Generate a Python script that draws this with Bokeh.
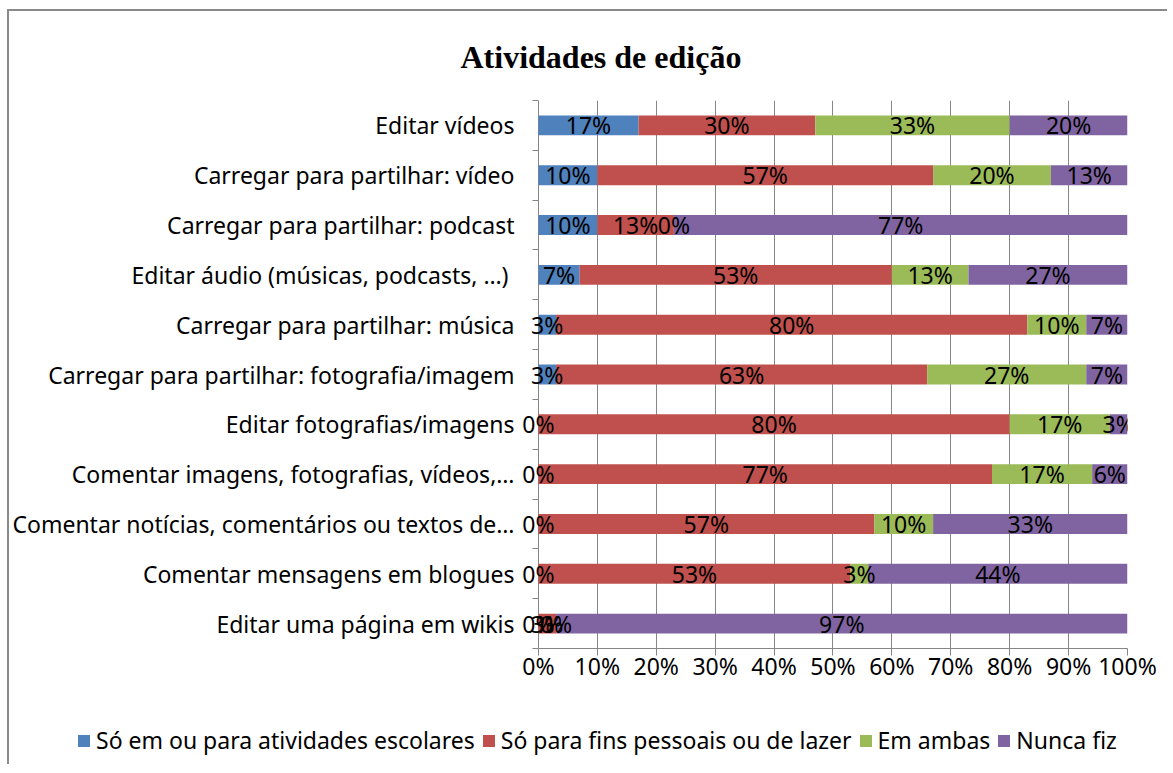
from bokeh.plotting import figure
from bokeh.layouts import column
from bokeh.models import ColumnDataSource, FixedTicker, Range1d, Title
from bokeh.core.properties import value
from bokeh.embed import file_html
from bokeh.resources import INLINE

categories = [
    "Editar vídeos",
    "Carregar para partilhar: vídeo",
    "Carregar para partilhar: podcast",
    "Editar áudio  (músicas, podcasts, …)",
    "Carregar para partilhar: música",
    "Carregar para partilhar: fotografia/imagem",
    "Editar fotografias/imagens",
    "Comentar imagens, fotografias, vídeos,…",
    "Comentar notícias, comentários ou textos de…",
    "Comentar mensagens em blogues",
    "Editar uma página em wikis",
]
escolares = [17, 10, 10, 7, 3, 3, 0, 0, 0, 0, 0]
pessoais = [30, 57, 13, 53, 80, 63, 80, 77, 57, 53, 3]
ambas = [33, 20, 0, 13, 10, 27, 17, 17, 10, 3, 0]
nunca = [20, 13, 77, 27, 7, 7, 3, 6, 33, 44, 97]
series_labels = ["Só em ou para atividades escolares", "Só para fins pessoais ou de lazer",
                 "Em ambas", "Nunca fiz"]
x_ticks = [0, 10, 20, 30, 40, 50, 60, 70, 80, 90, 100]
x_tick_labels = ["0%", "10%", "20%", "30%", "40%", "50%", "60%", "70%", "80%", "90%", "100%"]
colors = ["#4F81BD", "#C0504D", "#9BBB59", "#8064A2"]

FONT = "Noto Sans"
FS = "23px"
GRAY = "#868686"
BORDER = "2px solid #8a8a8a"
n = len(categories)
ypos = [n - i - 0.5 for i in range(n)]
series_keys = ["escolares", "pessoais", "ambas", "nunca"]

source = ColumnDataSource(dict(y=ypos, escolares=escolares, pessoais=pessoais,
                               ambas=ambas, nunca=nunca))

p = figure(width=1160, height=700, output_backend="svg", toolbar_location=None,
           x_range=Range1d(-3.72, 100), y_range=Range1d(0, n),
           min_border_left=505, min_border_right=42, min_border_top=88, min_border_bottom=63,
           outline_line_color=None, margin=(9, 0, 0, 7))
p.frame_align = False
p.styles = {"border-left": BORDER, "border-top": BORDER}

p.title = Title(text="Atividades de edição", text_font="Liberation Serif", text_font_size="32px",
                text_font_style="bold", align="left", offset=-56, standoff=51, text_color="black")

p.hbar_stack(series_keys, y="y", height=0.4, color=colors, line_color=None, source=source)

# segment labels
series = [escolares, pessoais, ambas, nunca]
lx, ly, lt = [], [], []
for i in range(n):
    start = 0
    for s in series:
        v = s[i]
        lx.append(start + v / 2)
        ly.append(ypos[i])
        lt.append(f"{v}%")
        start += v
p.text(x=lx, y=ly, text=lt, text_align="center", text_baseline="middle",
       text_font=value(FONT), text_font_size=FS, text_color="black")

# x axis
p.xaxis.ticker = FixedTicker(ticks=x_ticks)
p.xaxis.bounds = (0, 100)
p.xaxis.major_label_overrides = {t: l for t, l in zip(x_ticks, x_tick_labels)}
p.xaxis.major_label_text_font = FONT
p.xaxis.major_label_text_font_size = FS
p.xaxis.major_label_text_color = "black"
p.xaxis.axis_line_color = GRAY
p.xaxis.major_tick_line_color = GRAY
p.xaxis.major_tick_out = 7
p.xaxis.major_tick_in = 0
p.xaxis.minor_tick_line_color = None
p.xaxis.major_label_standoff = -6
p.xgrid.ticker = FixedTicker(ticks=x_ticks)
p.xgrid.grid_line_color = GRAY
p.ygrid.grid_line_color = None

# y axis (line drawn by the 0% grid line)
p.yaxis.ticker = FixedTicker(ticks=ypos, minor_ticks=list(range(n + 1)))
p.yaxis.major_label_overrides = {y: c for y, c in zip(ypos, categories)}
p.yaxis.major_label_text_font = FONT
p.yaxis.major_label_text_font_size = FS
p.yaxis.major_label_text_color = "black"
p.yaxis.major_tick_line_color = None
p.yaxis.major_tick_out = 0
p.yaxis.major_tick_in = 0
p.yaxis.minor_tick_line_color = GRAY
p.yaxis.minor_tick_out = -16
p.yaxis.minor_tick_in = 22
p.yaxis.axis_line_color = None
p.yaxis.major_label_standoff = 2

# legend strip below the chart (its sample bars lie outside the strip's view)
pl = figure(width=1160, height=55, output_backend="svg", toolbar_location=None,
            x_range=Range1d(0, 1), y_range=Range1d(100, 101),
            min_border=0, outline_line_color=None, margin=(0, 0, 0, 7))
pl.frame_align = False
pl.styles = {"border-left": BORDER}
pl.axis.visible = False
pl.grid.visible = False
for key, c, lab in zip(series_keys, colors, series_labels):
    pl.hbar(y="y", right=key, height=0.4, fill_color=c, line_color=None,
            source=source, legend_label=lab)
leg = pl.legend[0]
leg.orientation = "horizontal"
leg.location = (67, 8)
leg.border_line_color = None
leg.background_fill_alpha = 0
leg.glyph_width = 15
leg.glyph_height = 15
leg.label_standoff = 5
leg.spacing = 6
leg.padding = 0
leg.margin = 0
leg.label_text_font = FONT
leg.label_text_font_size = FS
leg.label_text_color = "black"

layout = column(p, pl, spacing=0)
open("out.html", "w").write(file_html(layout, INLINE))
